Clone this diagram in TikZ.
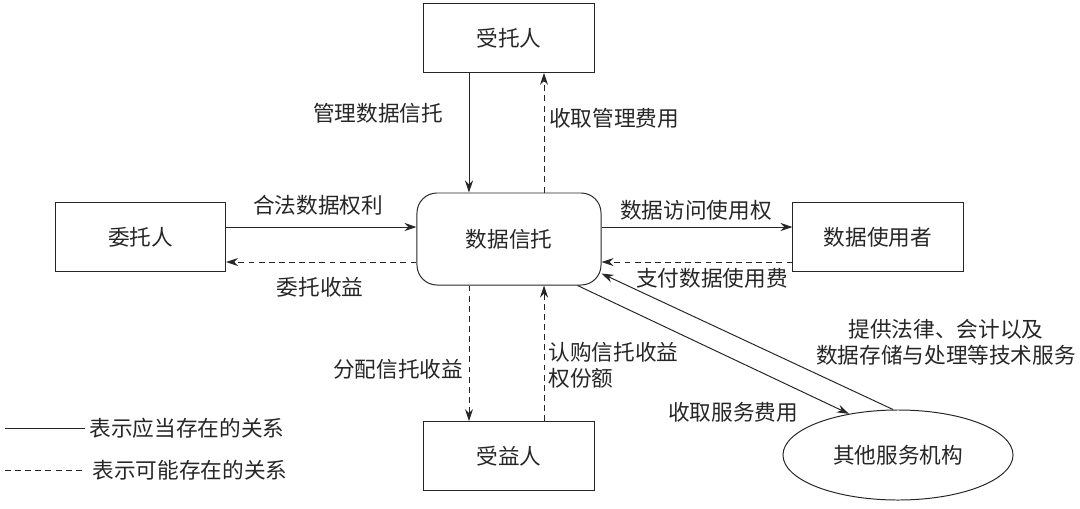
\documentclass[tikz,border=0pt]{standalone}
\usepackage{fontspec}
\setmainfont{Noto Sans CJK SC}
\usetikzlibrary{arrows.meta,shapes.geometric}

\tikzset{
    party/.style={draw, minimum width=4.25cm, minimum height=1.72cm, font=\fontsize{15.4pt}{18.5pt}\selectfont},
    lbl/.style={inner sep=0pt, font=\fontsize{15.4pt}{18.5pt}\selectfont},
    sure/.style={-{Stealth[length=0.3cm,width=0.2cm]}},
    maybe/.style={-{Stealth[length=0.3cm,width=0.2cm]}, dash pattern=on 4.2pt off 3pt},
}

\begin{document}
\begin{tikzpicture}[x=0.025cm, y=-0.025cm, line width=0.7pt, color=black!85, text=black!85]
        \useasboundingbox (0,0) rectangle (1080,508);

        \node[party] (trustee) at (509, 38) {受托人};
        \node[party] (grantor) at (140.5, 237) {委托人};
        \node[party] (user) at (878, 237) {数据使用者};
        \node[party] (beneficiary) at (509, 456) {受益人};
        \node[draw, rounded corners=0.5cm, minimum width=4.6cm, minimum height=2.3cm,
              font=\fontsize{15.4pt}{18.5pt}\selectfont] (trust) at (509, 239) {数据信托};
        \node[draw, ellipse, minimum width=5.75cm, minimum height=2.25cm,
              font=\fontsize{15.4pt}{18.5pt}\selectfont] (other) at (898, 455) {其他服务机构};

        % trustee
        \draw[sure] ([xshift=-1cm]trustee.south) -- ([xshift=-1cm]trust.north);
        \draw[maybe] ([xshift=0.875cm]trust.north) -- ([xshift=0.875cm]trustee.south);
        \node[lbl] (manage) at (378, 113) {管理数据信托};
        \node[lbl] (fee) at (614, 118) {收取管理费用};

        % grantor
        \draw[sure] ([yshift=0.25cm]grantor.east) -- ([yshift=0.25cm]grantor.east -| trust.west);
        \draw[maybe] ([yshift=-0.625cm]grantor.east -| trust.west) -- ([yshift=-0.625cm]grantor.east);
        \node[lbl] (rights) at (318, 205) {合法数据权利};
        \node[lbl] (income) at (320, 287) {委托收益};

        % data user
        \draw[sure] ([yshift=0.25cm]user.west -| trust.east) -- ([yshift=0.25cm]user.west);
        \draw[maybe] ([yshift=-0.625cm]user.west) -- ([yshift=-0.625cm]user.west -| trust.east);
        \node[lbl] (access) at (696, 210) {数据访问使用权};
        \node[lbl] (pay) at (712, 278) {支付数据使用费};

        % beneficiary
        \draw[maybe] ([xshift=-1cm]trust.south) -- ([xshift=-1cm]beneficiary.north);
        \draw[maybe] ([xshift=0.875cm]beneficiary.north) -- ([xshift=0.875cm]trust.south);
        \node[lbl] (share) at (398, 369) {分配信托收益};
        \node[lbl, anchor=west, align=left] (buy) at (548, 365) {认购信托收益\\权份额};

        % other service providers
        \draw[sure] ([xshift=-0.6cm]trust.south east) -- (other.140);
        \draw[sure] ([xshift=-0.125cm]other.north) -- ([yshift=0.3cm]trust.south east);
        \node[lbl] (service) at (733, 412) {收取服务费用};
        \node[lbl, align=center] (provide) at (946, 342.5) {提供法律、会计以及\\数据存储与处理等技术服务};

        % legend
        \coordinate (solidA) at (5, 428);
        \coordinate (solidB) at (85, 428);
        \coordinate (dashA) at (5, 470);
        \coordinate (dashB) at (85, 470);
        \draw (solidA) -- (solidB);
        \draw[dash pattern=on 4.2pt off 3pt] (dashA) -- (dashB);
        \node[lbl, anchor=west] (solidtext) at (89, 428) {表示应当存在的关系};
        \node[lbl, anchor=west] (dashtext) at (92, 470) {表示可能存在的关系};
    \end{tikzpicture}
\end{document}
